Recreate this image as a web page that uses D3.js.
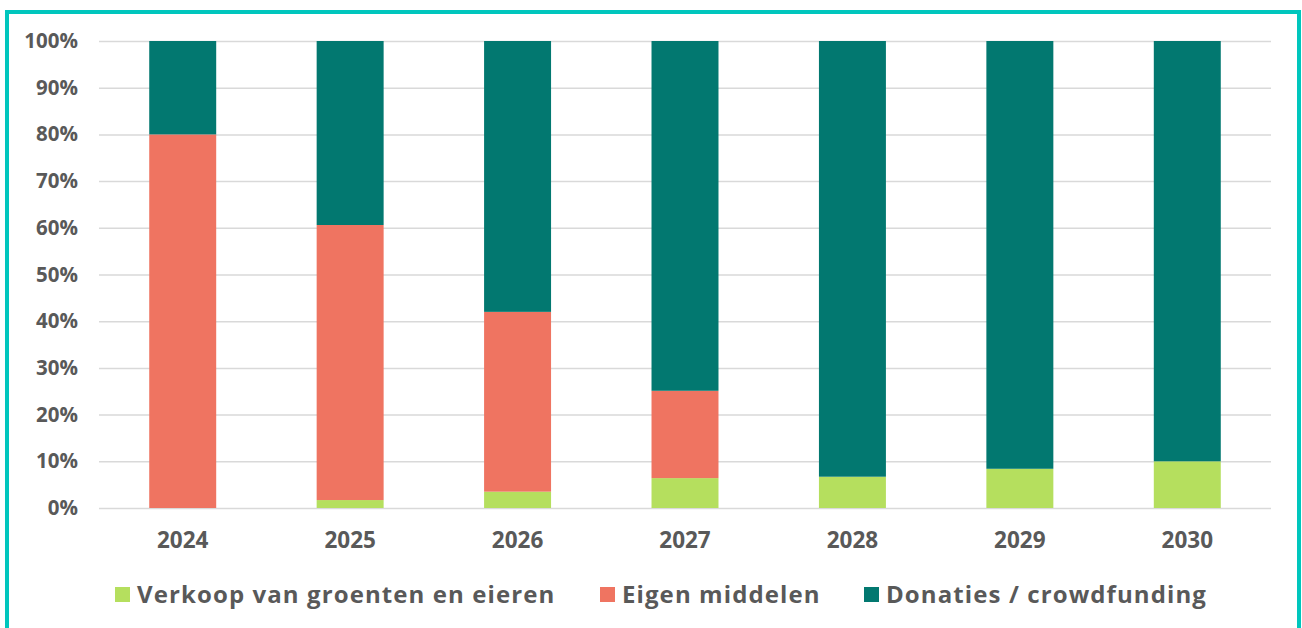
<!DOCTYPE html>
<html><head><meta charset="utf-8">
<script src="https://cdn.jsdelivr.net/npm/d3@7"></script>
<style>html,body{margin:0;padding:0;background:#fff;}svg{display:block;}</style>
</head><body>
<script>
const years = ["2024","2025","2026","2027","2028","2029","2030"];
const seriesNames = ["Verkoop van groenten en eieren","Eigen middelen","Donaties / crowdfunding"];
const verkoop = [0, 1.7, 3.5, 6.4, 6.7, 8.4, 10];
const eigen = [80, 58.9, 38.5, 18.7, 0, 0, 0];
const donaties = [20, 39.4, 58, 74.9, 93.3, 91.6, 90];
const yTicks = [0,10,20,30,40,50,60,70,80,90,100];
const colors = ["#B5DF5E","#EF7461","#027870"];

const W = 1302, H = 628;
const svg = d3.select("body").append("svg").attr("width", W).attr("height", H);
const font = "'Open Sans', 'DejaVu Sans', sans-serif";
const textColor = "#595959";

svg.append("rect").attr("x",7).attr("y",12).attr("width",1292).attr("height",640)
  .attr("fill","#fff").attr("stroke","#00C6BD").attr("stroke-width",4);

const x = d3.scaleBand().domain(years).range([99,1271]).paddingInner(0.6).paddingOuter(0.3);
const y = d3.scaleLinear().domain([0,100]).range([508,41]);

const yAxis = svg.append("g").attr("transform","translate(99,0)")
  .call(d3.axisLeft(y).tickValues(yTicks).tickFormat(d=>d+"%").tickSize(-1172).tickPadding(21));
yAxis.select(".domain").remove();
yAxis.selectAll(".tick line").attr("stroke","#D9D9D9").attr("stroke-width",1.5);
yAxis.selectAll(".tick text").attr("fill",textColor).attr("font-family",font)
  .attr("font-weight","700").attr("font-size","20.5px");

const rows = years.map((yr,i)=>({year:yr, v0:verkoop[i], v1:eigen[i], v2:donaties[i]}));
const stack = d3.stack().keys(["v0","v1","v2"]);
const stacked = stack(rows);

svg.append("g").selectAll("g").data(stacked).join("g")
  .attr("fill",(d,i)=>colors[i])
  .selectAll("rect").data(d=>d).join("rect")
  .attr("x",d=>x(d.data.year)).attr("width",x.bandwidth())
  .attr("y",d=>y(d[1])).attr("height",d=>Math.max(0,y(d[0])-y(d[1])));

const xAxis = svg.append("g").attr("transform","translate(0,508)")
  .call(d3.axisBottom(x).tickSize(0).tickPadding(24));
xAxis.select(".domain").remove();
xAxis.selectAll(".tick text").attr("fill",textColor).attr("font-family",font)
  .attr("font-weight","700").attr("font-size","22.5px");

// legend
const legendX = [115, 600, 864];
const lg = svg.append("g");
seriesNames.forEach((n,i)=>{
  lg.append("rect").attr("x",legendX[i]).attr("y",587).attr("width",15).attr("height",15).attr("fill",colors[i]);
  lg.append("text").attr("x",legendX[i]+22).attr("y",603).text(n)
    .attr("fill",textColor).attr("font-family",font).attr("font-weight","700")
    .attr("font-size","24px").attr("letter-spacing","1.1px");
});
</script>
</body></html>
